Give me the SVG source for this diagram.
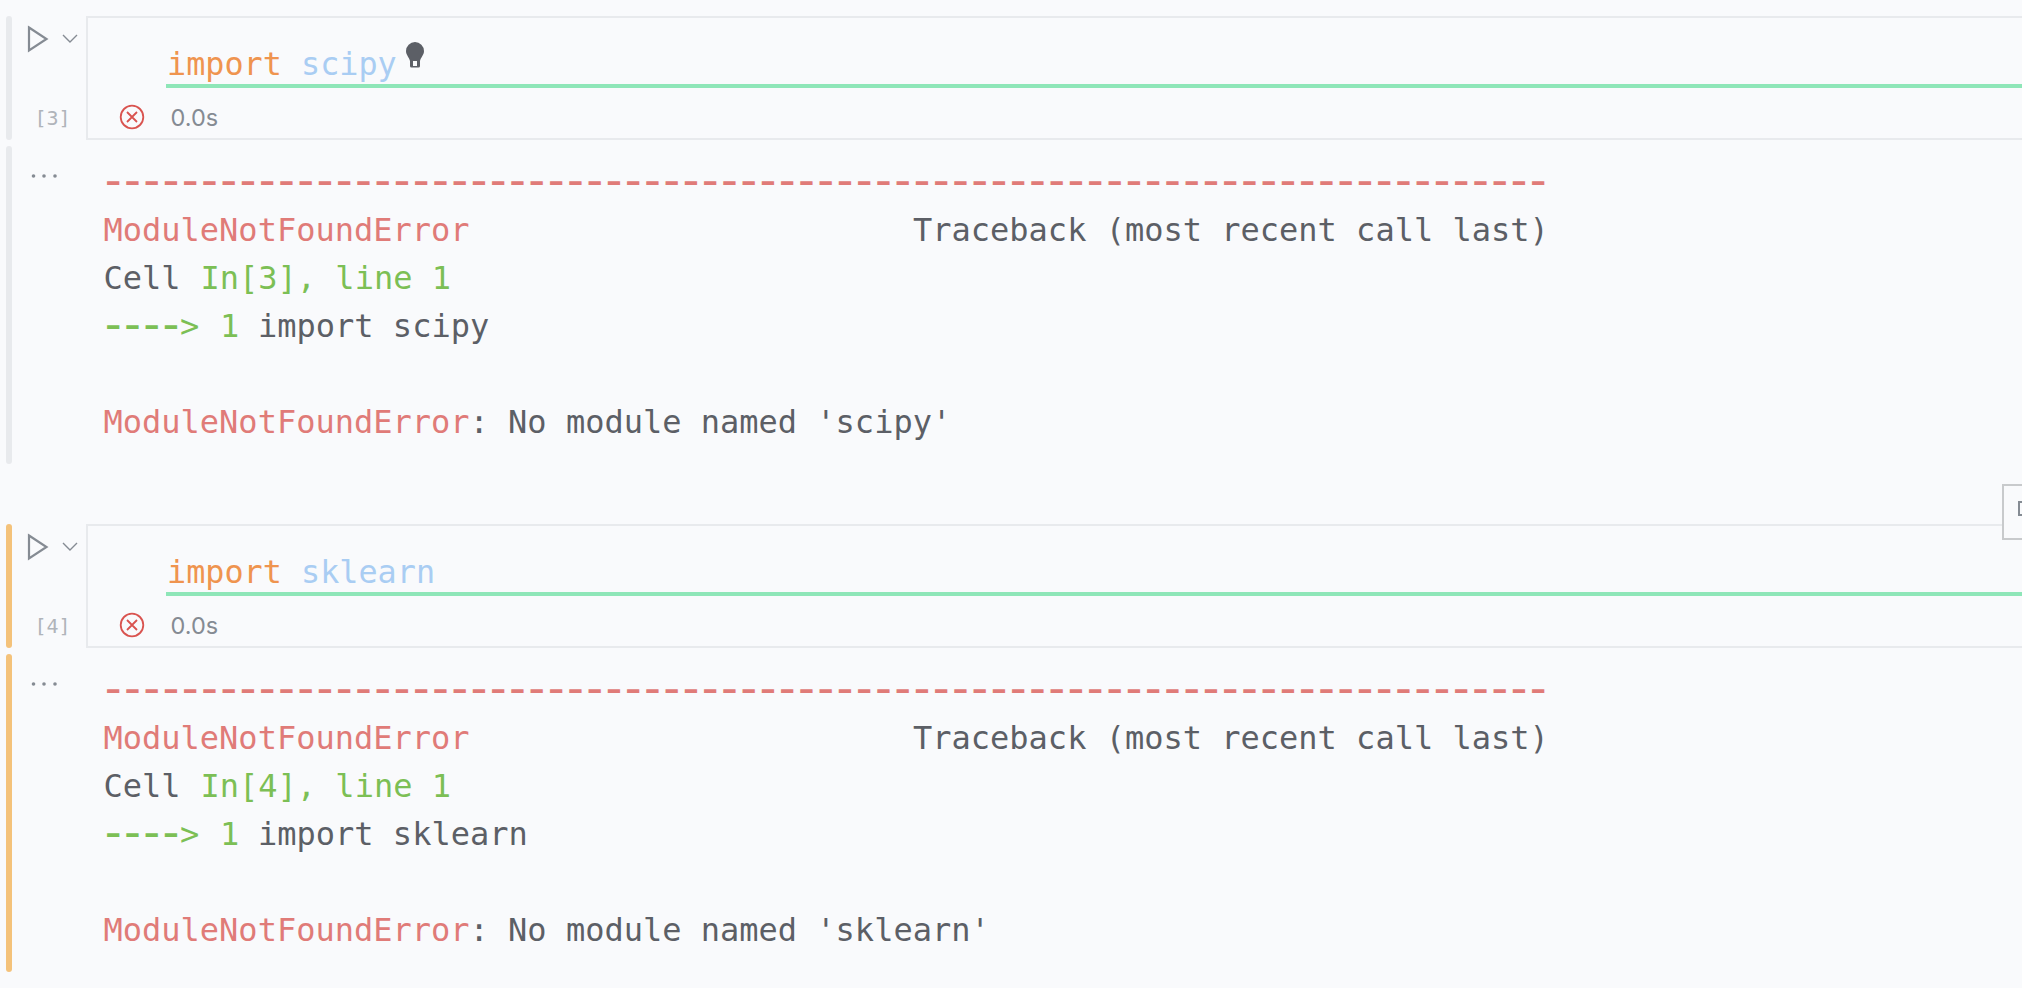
<svg xmlns="http://www.w3.org/2000/svg" width="2022" height="988" viewBox="0 0 2022 988">
<style>
.m{font-family:"DejaVu Sans Mono","Liberation Mono",monospace;font-size:32px;white-space:pre}
.c{font-family:"DejaVu Sans Mono","Liberation Mono",monospace;font-size:31.8px;white-space:pre}
.w{font-family:"DejaVu Sans Mono","Liberation Mono",monospace;font-size:48px;letter-spacing:-9.64px;white-space:pre}
.r{fill:#e07b78}.d{fill:#5c5f66}.g{fill:#7cbf55}.o{fill:#ef944f}.b{fill:#a9cdf3}
.n{font-family:"DejaVu Sans Mono",monospace;font-size:20px;fill:#b0b4ba}
.t{font-family:"Inter","Noto Sans",sans-serif;font-size:23.500px;fill:#858b93}
.box{fill:none;stroke:#e8eaed;stroke-width:2}
.run{fill:none;stroke:#858b93;stroke-width:2.2}
.chev{fill:none;stroke:#858b93;stroke-width:1.4}
.err{fill:none;stroke:#d9534f;stroke-width:1.8}
.dot{fill:#858b93}
</style>
<rect width="2022" height="988" fill="#f9fafc"/>
<g id="cell-3">
<rect x="6" y="16" width="6" height="124" rx="3" fill="#e8eaed"/>
<rect x="6" y="146" width="6" height="318" rx="3" fill="#e8eaed"/>
<rect class="box" x="87" y="17" width="2000" height="122"/>
<path class="run" d="M29 27.500 L46.500 39 L29 50.500 Z"/>
<path class="chev" d="M63 35 L70 42 L77 35"/>
<text class="c o" x="167" y="75">import <tspan class="b">scipy</tspan></text>
<rect x="166" y="84" width="1856" height="4" fill="#8ee6b8"/>
<path d="M415 42 a9 9 0 0 1 9 9 c0 4-3 6-4 10 v5 a1.500 1.500 0 0 1-1.500 1.500 h-7 a1.500 1.500 0 0 1-1.500-1.500 v-5 c-1-4-4-6-4-10 a9 9 0 0 1 9-9 Z" fill="#5c5f66"/>
<rect x="413" y="61" width="4" height="5" fill="#f9fafc"/>
<text class="n" x="34.500" y="125">[3]</text>
<circle class="err" cx="132" cy="117" r="11.300"/>
<path class="err" d="M127 112 L137 122 M137 112 L127 122"/>
<text class="t" x="170.500" y="126">0.0s</text>
<circle class="dot" cx="33.500" cy="176" r="1.800"/><circle class="dot" cx="44" cy="176" r="1.800"/><circle class="dot" cx="55" cy="176" r="1.800"/>
<text class="w r" x="98.700" y="196">---------------------------------------------------------------------------</text>
<text class="m r" x="103.500" y="241">ModuleNotFoundError</text>
<text class="m d" x="913" y="241">Traceback (most recent call last)</text>
<text class="m d" x="103.500" y="289">Cell <tspan class="g" x="200.500">In[3], line 1</tspan></text>
<text class="w g" x="98.700" y="340">----</text>
<text class="m g" x="180" y="337">&gt;</text>
<text class="m g" x="220" y="337">1</text>
<text class="m d" x="258" y="337">import scipy</text>
<text class="m r" x="103.500" y="433">ModuleNotFoundError<tspan class="d">: No module named 'scipy'</tspan></text>
</g>
<g id="cell-4" transform="translate(0 508)">
<rect x="6" y="16" width="6" height="124" rx="3" fill="#f4c27a"/>
<rect x="6" y="146" width="6" height="318" rx="3" fill="#f4c27a"/>
<rect class="box" x="87" y="17" width="2000" height="122"/>
<path class="run" d="M29 27.500 L46.500 39 L29 50.500 Z"/>
<path class="chev" d="M63 35 L70 42 L77 35"/>
<text class="c o" x="167" y="75">import <tspan class="b">sklearn</tspan></text>
<rect x="166" y="84" width="1856" height="4" fill="#8ee6b8"/>
<text class="n" x="34.500" y="125">[4]</text>
<circle class="err" cx="132" cy="117" r="11.300"/>
<path class="err" d="M127 112 L137 122 M137 112 L127 122"/>
<text class="t" x="170.500" y="126">0.0s</text>
<circle class="dot" cx="33.500" cy="176" r="1.800"/><circle class="dot" cx="44" cy="176" r="1.800"/><circle class="dot" cx="55" cy="176" r="1.800"/>
<text class="w r" x="98.700" y="196">---------------------------------------------------------------------------</text>
<text class="m r" x="103.500" y="241">ModuleNotFoundError</text>
<text class="m d" x="913" y="241">Traceback (most recent call last)</text>
<text class="m d" x="103.500" y="289">Cell <tspan class="g" x="200.500">In[4], line 1</tspan></text>
<text class="w g" x="98.700" y="340">----</text>
<text class="m g" x="180" y="337">&gt;</text>
<text class="m g" x="220" y="337">1</text>
<text class="m d" x="258" y="337">import sklearn</text>
<text class="m r" x="103.500" y="433">ModuleNotFoundError<tspan class="d">: No module named 'sklearn'</tspan></text>
</g>
<g id="toolbar-button">
<rect x="2003" y="485" width="30" height="54" fill="#f9fafc" stroke="#c8cacc" stroke-width="2"/>
<rect x="2019" y="502" width="6" height="13" fill="none" stroke="#858b93" stroke-width="2"/>
</g>
</svg>
